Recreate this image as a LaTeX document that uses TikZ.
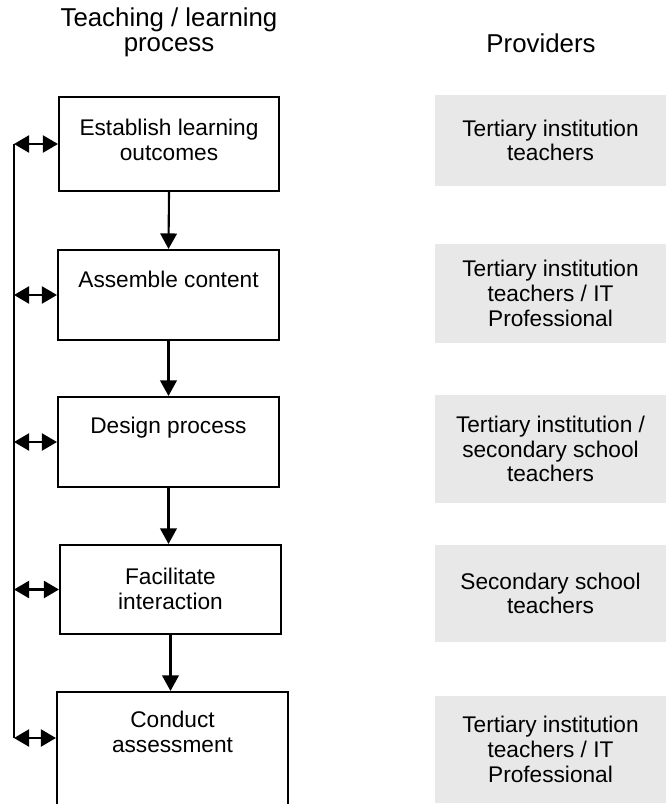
\documentclass[tikz,border=0pt]{standalone}
\usepackage{fontspec}
\setmainfont{Liberation Sans}
\usetikzlibrary{arrows.meta, positioning, calc}
\definecolor{provgray}{RGB}{232,232,232}

\begin{document}
\begin{tikzpicture}[
  font=\fontsize{12.9}{14.1}\selectfont,
  heading/.style={align=center, font=\fontsize{14.7}{14.3}\selectfont},
  stage/.style={draw, line width=1.2pt, inner sep=0pt, minimum width=4.42cm, minimum height=1.8cm},
  stagetext/.style={align=center, inner sep=0pt},
  provider/.style={fill=provgray, minimum width=4.62cm, align=center, inner sep=0pt},
  flow/.style={-{Triangle[length=0.31cm, width=0.33cm]}, line width=1.2pt},
  link/.style={{Triangle[length=0.30cm, width=0.34cm]}-{Triangle[length=0.30cm, width=0.34cm]}, line width=1.2pt},
]
  \useasboundingbox (0,0) rectangle (13.36,-16.08);

  % column headings
  \node[heading] (processhead) at (3.38,-0.65) {Teaching / learning\\process};
  \node[heading] (providerhead) at (10.82,-0.86) {Providers};

  % teaching / learning process
  \node[stage, minimum width=4.40cm, minimum height=1.88cm] (establish) at (3.38,-2.88) {};
  \node[stage] (assemble) at (3.37,-5.90) {};
  \node[stage] (design) at (3.37,-8.84) {};
  \node[stage, minimum height=1.78cm] (facilitate) at (3.41,-11.79) {};
  \node[stage, minimum width=4.62cm, minimum height=2.6cm] (conduct) at (3.45,-15.14) {};

  \node[stagetext, below=0.46cm of establish.north] (establishtext) {Establish learning\\outcomes};
  \node[stagetext, below=0.44cm of assemble.north] (assembletext) {Assemble content};
  \node[stagetext, below=0.42cm of design.north] (designtext) {Design process};
  \node[stagetext, below=0.48cm of facilitate.north] (facilitatetext) {Facilitate\\interaction};
  \node[stagetext, below=0.40cm of conduct.north] (conducttext) {Conduct\\assessment};

  \draw[flow] (establish.south) -- (assemble.north);
  \draw[flow] (assemble.south) -- (design.north);
  \draw[flow] (design.south) -- (design.south |- facilitate.north);
  \draw[flow] (facilitate.south) -- (facilitate.south |- conduct.north);

  % feedback rail
  \coordinate (railtop) at (0.28,-2.88);
  \coordinate (railbot) at (0.28,-14.76);
  \draw[line width=1.2pt] (railtop) -- (railbot);
  \foreach \s in {establish, assemble, design, facilitate}
    \draw[link] (railtop |- \s.west) -- (\s.west);
  \draw[link] (railbot) -- (railbot -| conduct.west);

  % providers
  \node[provider, minimum height=1.82cm] (tertiary) at (11.01,-2.81) {Tertiary institution\\teachers};
  \node[provider, minimum height=1.98cm] (tertiaryit) at (11.01,-5.87) {Tertiary institution\\teachers / IT\\Professional};
  \node[provider, minimum height=2.16cm] (mixed) at (11.01,-8.98) {Tertiary institution /\\secondary school\\teachers};
  \node[provider, minimum height=1.94cm] (secondary) at (11.01,-11.87) {Secondary school\\teachers};
  \node[provider, minimum height=2.14cm] (tertiaryitb) at (11.01,-14.99) {Tertiary institution\\teachers / IT\\Professional};
\end{tikzpicture}
\end{document}
